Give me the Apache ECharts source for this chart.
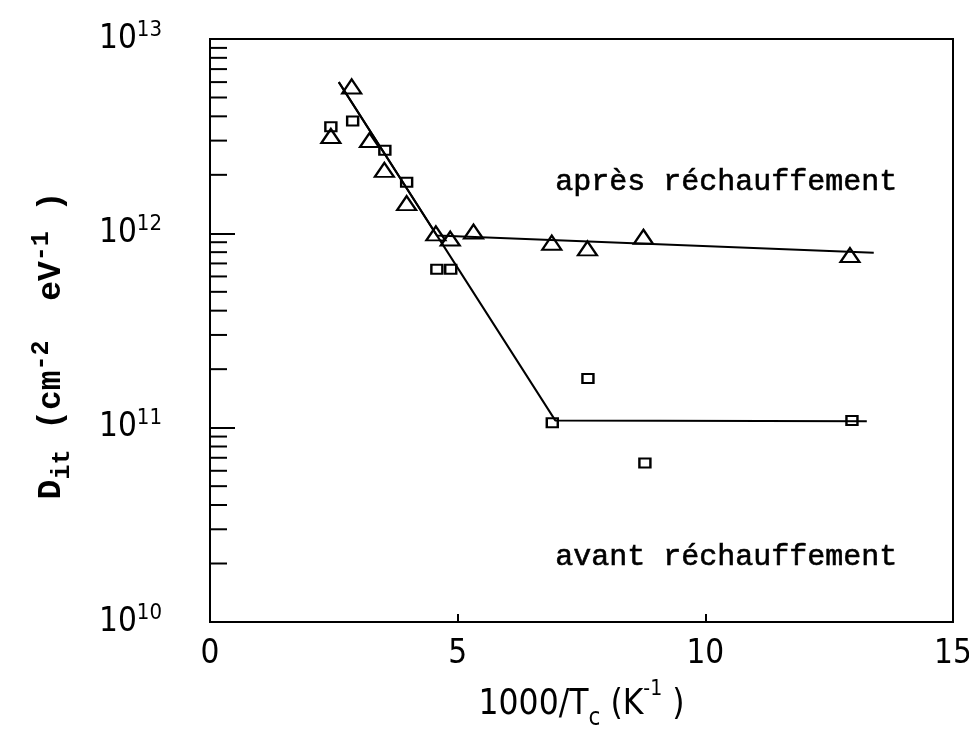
<!DOCTYPE html>
<html>
<head>
<meta charset="utf-8">
<script src="https://cdn.jsdelivr.net/npm/echarts@6/dist/echarts.min.js"></script>
<style>html,body{margin:0;padding:0;background:#fff;}#c{width:969px;height:731px;}</style>
</head>
<body>
<div id="c"></div>
<script>
// Data
const apresPoints = [
  [2.44, 3.17e12], [2.86, 5.7e12], [3.22, 3.02e12], [3.52, 2.12e12], [3.97, 1.43e12],
  [4.56, 1.0e12], [4.85, 0.94e12], [5.32, 1.02e12], [6.90, 8.95e11], [7.62, 8.37e11],
  [8.75, 9.6e11], [12.92, 7.73e11]
];
const avantPoints = [
  [2.44, 3.54e12], [2.88, 3.79e12], [3.53, 2.68e12], [3.97, 1.83e12], [4.58, 6.53e11],
  [4.86, 6.53e11], [6.91, 1.06e11], [7.63, 1.79e11], [8.78, 6.57e10], [12.96, 1.09e11]
];
const apresFit = [[2.60, 6.0e12], [4.58, 9.75e11], [13.40, 7.95e11]];
const avantFit = [[2.60, 6.0e12], [6.97, 1.09e11], [13.26, 1.08e11]];
const xTicks = [0, 5, 10, 15];
const yDecades = [1e10, 1e11, 1e12];
const minorMultipliers = [2, 3, 4, 5, 6, 7, 8, 9];

const minorTickValues = [];
yDecades.forEach(d => minorMultipliers.forEach(m => minorTickValues.push([0, d * m])));

const narrow = "'Liberation Sans Narrow', 'DejaVu Sans Condensed', 'Liberation Sans', sans-serif";
const mono = "'Liberation Mono', 'DejaVu Sans Mono', monospace";

const chart = echarts.init(document.getElementById('c'));
chart.setOption({
  animation: false,
  backgroundColor: '#fff',
  grid: { left: 210, right: 16, top: 39, bottom: 109, outerBoundsMode: 'none', containLabel: false,
    show: true, borderColor: '#000', borderWidth: 2, backgroundColor: 'transparent' },
  xAxis: {
    type: 'value', min: 0, max: 15, interval: 5,
    axisLine: { show: true, lineStyle: { color: '#000', width: 2 } },
    axisTick: { show: true, inside: true, length: 8, lineStyle: { color: '#000', width: 2 } },
    splitLine: { show: false },
    axisLabel: { color: '#000', fontFamily: narrow, fontSize: 33, margin: 16,
      formatter: v => xTicks.includes(v) ? String(v) : '' },
    name: '{m|1000/T}{sub|c}{m| (K}{sup|-1}{m| )}',
    nameLocation: 'middle', nameGap: 57,
    nameTextStyle: {
      rich: {
        m: { fontFamily: narrow, fontSize: 35, color: '#000', lineHeight: 52 },
        sub: { fontFamily: narrow, fontSize: 24, color: '#000', verticalAlign: 'bottom', lineHeight: 52 },
        sup: { fontFamily: narrow, fontSize: 21, color: '#000', verticalAlign: 'top', lineHeight: 52 }
      }
    }
  },
  yAxis: {
    type: 'log', logBase: 10, min: 1e10, max: 1e13,
    axisLine: { show: true, lineStyle: { color: '#000', width: 2 } },
    axisTick: { show: true, inside: true, length: 25, lineStyle: { color: '#000', width: 2 } },
    splitLine: { show: false },
    axisLabel: {
      margin: 48,
      formatter: v => '{b|10}{s|' + Math.round(Math.log10(v)) + '}',
      rich: {
        b: { fontFamily: narrow, fontSize: 33, color: '#000', lineHeight: 40 },
        s: { fontFamily: narrow, fontSize: 22, color: '#000', verticalAlign: 'top', lineHeight: 40 }
      }
    },
    name: '{m|D}{sub|it}{m| (cm}{sup|-2}{m|  eV}{sup|-1}{m| )}{sup|  }',
    nameLocation: 'middle', nameGap: 135, nameRotate: 90,
    nameTextStyle: {
      rich: {
        m: { fontFamily: mono, fontSize: 33, fontWeight: 'bold', color: '#000', lineHeight: 46 },
        sub: { fontFamily: mono, fontSize: 25, fontWeight: 'bold', color: '#000', verticalAlign: 'bottom', lineHeight: 46 },
        sup: { fontFamily: mono, fontSize: 25, fontWeight: 'bold', color: '#000', verticalAlign: 'top', lineHeight: 46 }
      }
    }
  },
  graphic: [
    { type: 'text', left: 555, top: 167, style: { text: 'après réchauffement', font: '30px ' + mono, fill: '#000', stroke: '#000', lineWidth: 0.6 } },
    { type: 'text', left: 555, top: 542, style: { text: 'avant réchauffement', font: '30px ' + mono, fill: '#000', stroke: '#000', lineWidth: 0.6 } }
  ],
  series: [
    { type: 'line', data: apresFit, symbol: 'none', lineStyle: { color: '#000', width: 2 }, z: 2 },
    { type: 'line', data: avantFit, symbol: 'none', lineStyle: { color: '#000', width: 2 }, z: 2 },
    { type: 'scatter', data: apresPoints, symbol: 'triangle', symbolSize: [19, 14],
      itemStyle: { color: 'rgba(255,255,255,0)', borderColor: '#000', borderWidth: 2.2, opacity: 1 }, z: 3 },
    { type: 'scatter', data: avantPoints, symbol: 'rect', symbolSize: [11, 9],
      itemStyle: { color: 'rgba(255,255,255,0)', borderColor: '#000', borderWidth: 2.2, opacity: 1 }, z: 3 },
    { type: 'custom', data: minorTickValues, silent: true, z: 4,
      renderItem: (params, api) => {
        const p = api.coord([0, api.value(1)]);
        return { type: 'line', shape: { x1: p[0], y1: p[1], x2: p[0] + 17, y2: p[1] },
          style: { stroke: '#000', lineWidth: 2 } };
      }
    }
  ]
});
</script>
</body>
</html>
